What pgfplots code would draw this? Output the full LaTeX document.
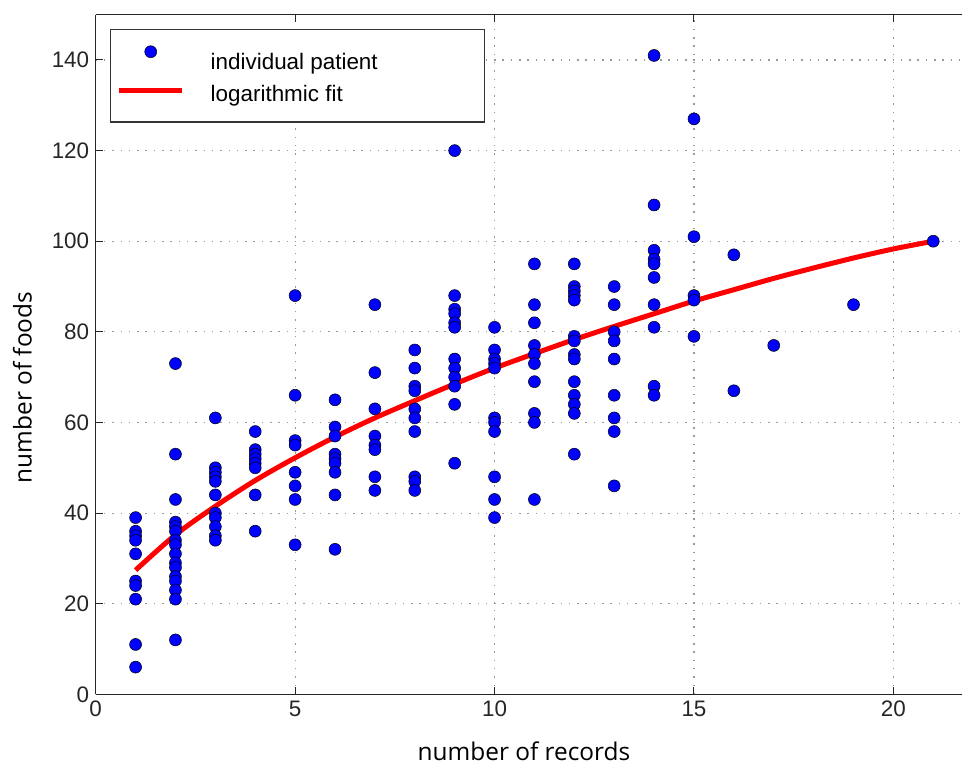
\documentclass[border=0pt]{standalone}
\usepackage{fontspec}
\setmainfont{Liberation Sans}
\newfontfamily\labelfont{Open Sans}
\usepackage{pgfplots}
\pgfplotsset{compat=1.18}

% legend images share one fixed box, so their origin sits on the text baseline
\pgfplotsset{
  dotlegend/.style={legend image code/.code={%
    \path[draw=none, fill=none] (0bp,-5bp) rectangle (63bp,16bp);
    \draw[mark repeat=2, mark phase=2, ##1, yshift=12bp]
      plot coordinates {(0bp,0bp) (31.5bp,0bp) (63bp,0bp)};}},
  linelegend/.style={legend image code/.code={%
    \path[draw=none, fill=none] (0bp,-5bp) rectangle (63bp,16bp);
    \draw[##1, yshift=5.5bp] (0bp,0bp) -- (63bp,0bp);}},
}

% foods recorded per patient against number of records
\pgfplotstableread{
x y
1 39
1 36
1 35
1 34
1 31
1 25
1 24
1 21
1 11
1 6
2 73
2 53
2 43
2 38
2 37
2 36
2 34
2 33
2 31
2 29
2 28
2 26
2 25
2 23
2 21
2 12
3 61
3 50
3 49
3 48
3 47
3 44
3 40
3 39
3 37
3 35
3 34
4 58
4 54
4 53
4 52
4 51
4 50
4 44
4 36
5 88
5 66
5 56
5 55
5 49
5 46
5 43
5 33
6 65
6 59
6 57
6 53
6 52
6 51
6 49
6 44
6 32
7 86
7 71
7 63
7 57
7 55
7 54
7 48
7 45
8 76
8 72
8 68
8 67
8 63
8 61
8 58
8 48
8 47
8 45
9 120
9 88
9 85
9 84
9 82
9 81
9 74
9 72
9 70
9 68
9 64
9 51
10 81
10 76
10 74
10 73
10 72
10 61
10 60
10 58
10 48
10 43
10 39
11 95
11 86
11 82
11 77
11 75
11 73
11 69
11 62
11 60
11 43
12 95
12 90
12 89
12 88
12 87
12 79
12 78
12 75
12 74
12 69
12 66
12 64
12 62
12 53
13 90
13 86
13 80
13 78
13 74
13 66
13 61
13 58
13 46
14 141
14 108
14 98
14 96
14 95
14 92
14 86
14 81
14 68
14 66
15 127
15 101
15 88
15 87
15 79
16 97
16 67
17 77
19 86
21 100
}\patients

% fitted curve, sampled at each number of records
\pgfplotstableread{
x y
1 27.4
2 35.2
3 41.5
4 47.2
5 52.2
6 56.8
7 61.0
8 64.8
9 68.5
10 72.0
11 75.2
12 78.3
13 81.2
14 84.0
15 86.8
16 89.3
17 91.8
18 94.1
19 96.3
20 98.3
21 100.0
}\logfit

\begin{document}
\begin{tikzpicture}
\begin{axis}[
  scale only axis, width=866.3bp, height=679.6bp,
  xmin=0, xmax=21.72, ymin=0, ymax=150,
  axis x line*=box, axis y line*=left,
  axis line style={-, line width=1.3bp, black!85},
  xtick={0,5,10,15,20}, ytick={0,20,...,140},
  tick align=inside, major tick length=7bp,
  tick style={line width=1bp, black!85},
  grid=major,
  major grid style={line width=1.1bp, gray!80, dash pattern=on 1.5bp off 6.8bp},
  /pgf/number format/assume math mode=true,
  tick label style={font=\fontsize{22.5}{26}\selectfont, text=black!85},
  xticklabel style={yshift=-3bp},
  yticklabel style={xshift=-3bp},
  xlabel={number of records}, ylabel={number of foods},
  label style={font=\labelfont\fontsize{24.5}{28}\selectfont},
  xlabel style={at={(axis description cs:0.4944,-0.0979)}, anchor=base, text depth=0pt},
  ylabel style={at={(axis description cs:-0.0739,0.4514)}, anchor=base},
  legend cell align=left,
  legend style={at={(axis description cs:0.0165,0.979)}, anchor=north west,
    draw=black!80, line width=1.5bp, inner xsep=6bp, inner ysep=16bp,
    row sep=5.5bp, column sep=26bp,
    nodes={inner sep=0pt, text height=16bp, text depth=5bp,
      font=\fontsize{22.5}{26}\selectfont}},
]
\addplot[only marks, mark=*, mark size=6bp,
  mark options={fill=blue, draw=black, line width=0.5bp}, dotlegend]
  table[x=x, y=y] {\patients};
\addlegendentry{\makebox[268bp][l]{individual patient}}
\addplot[red, line width=5bp, no marks, smooth, linelegend]
  table[x=x, y=y] {\logfit};
\addlegendentry{\makebox[268bp][l]{logarithmic fit}}
\coordinate (bl) at (rel axis cs:0,0);
\coordinate (tr) at (rel axis cs:1,1);
\end{axis}
\pgfresetboundingbox
\path[use as bounding box] ([xshift=-95.7bp, yshift=-71.7bp]bl) rectangle ([yshift=14.7bp]tr);
\end{tikzpicture}
\end{document}
